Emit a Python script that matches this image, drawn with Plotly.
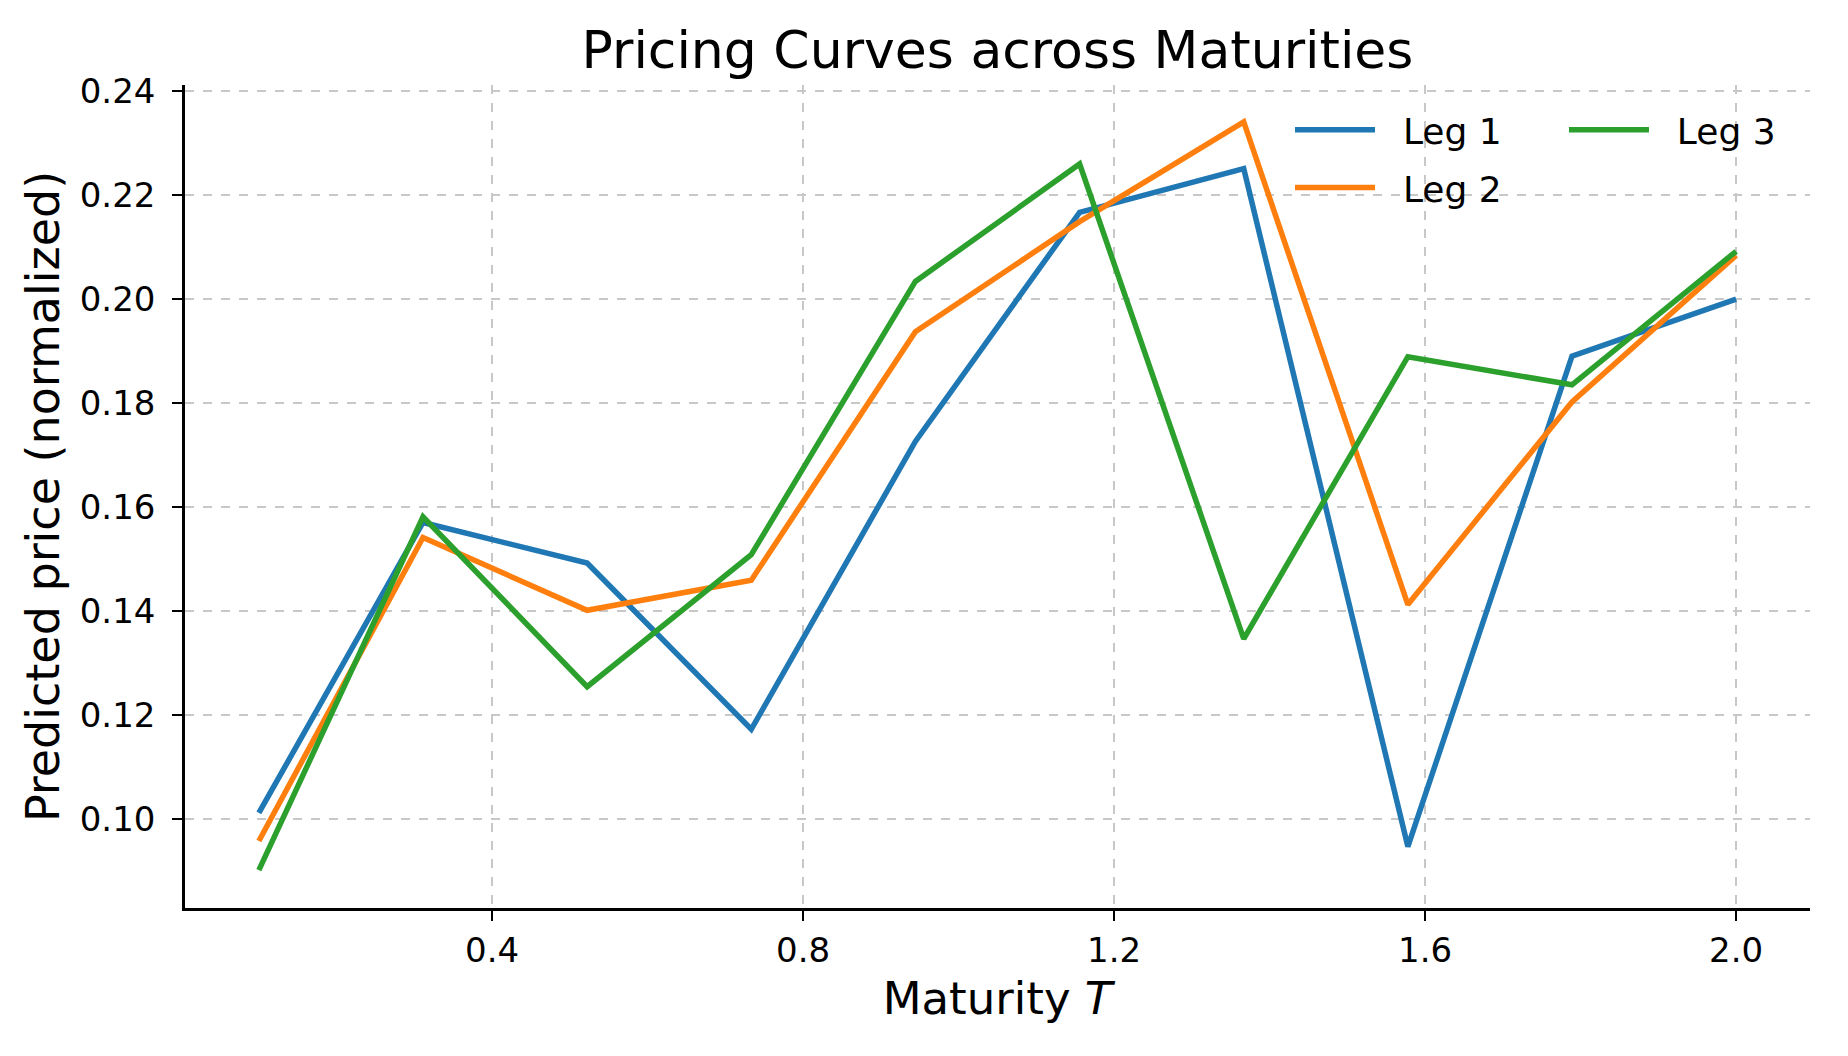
import plotly.graph_objects as go

maturities = [0.1, 0.3111, 0.5222, 0.7333, 0.9444, 1.1556, 1.3667, 1.5778, 1.7889, 2.0]
leg1 = [0.1011, 0.1570, 0.1492, 0.1172, 0.1726, 0.2167, 0.2251, 0.0946, 0.1890, 0.2000]
leg2 = [0.0957, 0.1541, 0.1401, 0.1459, 0.1937, 0.2149, 0.2341, 0.1412, 0.1802, 0.2084]
leg3 = [0.0901, 0.1581, 0.1254, 0.1508, 0.2034, 0.2260, 0.1346, 0.1889, 0.1835, 0.2092]
series_names = ["Leg 1", "Leg 2", "Leg 3"]
colors = ["#1f77b4", "#ff7f0e", "#2ca02c"]

FONT = "DejaVu Sans"
NB = "\u00a0\u00a0"

fig = go.Figure()
for name, vals, col, lg in zip(series_names, [leg1, leg2, leg3], colors, ["legend", "legend", "legend2"]):
    fig.add_trace(go.Scatter(
        x=maturities, y=vals, mode="lines", name=NB + name,
        line=dict(color=col, width=5.5), legend=lg, legendgroup=name,
    ))

axis_common = dict(
    showline=True, linecolor="black", linewidth=2.5, mirror=False,
    ticks="outside", ticklen=10, tickwidth=2, tickcolor="black",
    showgrid=True, gridcolor="#c8c8c8", gridwidth=1.5, griddash="dash",
    zeroline=False, tickfont=dict(family=FONT, size=34, color="black"),
)

fig.update_layout(
    width=1848, height=1056,
    plot_bgcolor="white", paper_bgcolor="white",
    margin=dict(l=177, r=46, t=77, b=156),
    font=dict(family=FONT, color="black"),
    title=dict(text="Pricing Curves across Maturities", x=0.5, xref="paper",
               y=1 - 41.5 / 1056, yanchor="middle",
               font=dict(family=FONT, size=52, color="black")),
    xaxis=dict(range=[0.005, 2.095], tick0=0, dtick=0.4, tickformat=".1f",
               title=dict(text="Maturity <i>T</i>", font=dict(family=FONT, size=45), standoff=14),
               **axis_common),
    yaxis=dict(range=[0.0828, 0.2412], tick0=0, dtick=0.02, tickformat=".2f",
               ticklabelstandoff=10,
               title=dict(text="Predicted price (normalized)", font=dict(family=FONT, size=46), standoff=6),
               **axis_common),
    legend=dict(x=0.68, y=0.982, xanchor="left", yanchor="top", bgcolor="rgba(0,0,0,0)",
                font=dict(family=FONT, size=36), tracegroupgap=8, itemwidth=80),
    legend2=dict(x=0.8486, y=0.982, xanchor="left", yanchor="top", bgcolor="rgba(0,0,0,0)",
                 font=dict(family=FONT, size=36), itemwidth=80),
    showlegend=True,
)

fig.write_html("out.html")
